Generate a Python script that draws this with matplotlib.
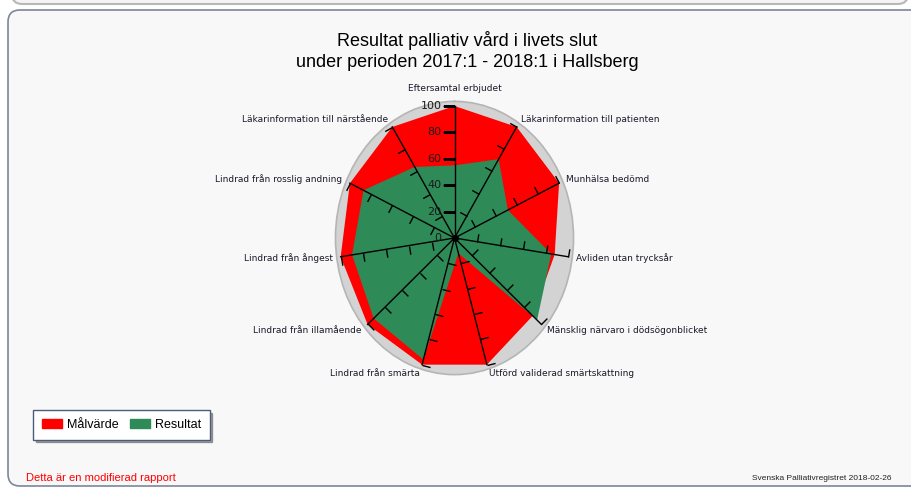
import matplotlib.pyplot as plt
import numpy as np
from matplotlib.patches import FancyBboxPatch, Patch
from matplotlib.path import Path
from matplotlib.markers import MarkerStyle
from matplotlib.transforms import Affine2D, IdentityTransform

# data
categories = [
    'Eftersamtal erbjudet',
    'Läkarinformation till patienten',
    'Munhälsa bedömd',
    'Avliden utan trycksår',
    'Mänsklig närvaro i dödsögonblicket',
    'Utförd validerad smärtskattning',
    'Lindrad från smärta',
    'Lindrad från illamående',
    'Lindrad från ångest',
    'Lindrad från rosslig andning',
    'Läkarinformation till närstående',
]
malvarde = [100, 100, 100, 88, 90, 100, 100, 100, 100, 100, 100]
resultat = [55, 71, 51, 85, 95, 12, 96, 93, 90, 87, 64]
r_ticks = [0, 20, 40, 60, 80, 100]

W, H = 912, 488
fig = plt.figure(figsize=(W / 100, H / 100), dpi=100)
fig.patch.set_facecolor('white')

# background panels (pixel coordinates), kept behind the axes
fig.add_artist(FancyBboxPatch((12, H - 4), 896, 30, boxstyle='round,pad=0,rounding_size=10',
                              transform=IdentityTransform(), facecolor='#f4f4f4',
                              edgecolor='#b8b8b8', lw=1.5, zorder=-10))
fig.add_artist(FancyBboxPatch((8, 2), 920, 476, boxstyle='round,pad=0,rounding_size=12',
                              transform=IdentityTransform(), facecolor='#f8f8f8',
                              edgecolor='#7d8799', lw=1.2, zorder=-10))

# title
fig.text(467 / W, 1 - 31 / H, 'Resultat palliativ vård i livets slut\nunder perioden 2017:1 - 2018:1 i Hallsberg',
         ha='center', va='top', fontsize=13, family='Liberation Sans', linespacing=1.3)

# radar (elliptical polar axes)
cx, cy = 454.5, 238
rmax = 103.5
rx, ry = 115 * rmax / 100, 132 * rmax / 100
ax = fig.add_axes([(cx - rx) / W, (H - cy - ry) / H, 2 * rx / W, 2 * ry / H], projection='polar')
ax.set_aspect('auto')
ax.set_theta_zero_location('N')
ax.set_theta_direction(-1)
ax.set_ylim(0, rmax)
ax.grid(False)
ax.set_xticks([])
ax.set_yticks([])
ax.set_facecolor('#d3d3d3')
ax.spines['polar'].set_color('#b5b5b5')
ax.spines['polar'].set_linewidth(1.2)

n = len(categories)
theta = np.arange(n) * 2 * np.pi / n
closed = np.append(theta, theta[0])
ax.fill(closed, malvarde + malvarde[:1], color='#ff0000', lw=0)
ax.fill(closed, resultat + resultat[:1], color='#2e8b57', lw=0)

# spokes with one-sided tick marks
tick_path = Path([(0, 0), (1, 0)], [Path.MOVETO, Path.LINETO])
for k, t in enumerate(theta):
    ax.plot([t, t], [0, 100], color='black', lw=1)
    ang = np.degrees(np.arctan2(rx * np.sin(t), -ry * np.cos(t)))
    ms = 17 if k == 0 else 12
    ax.plot([t] * 5, r_ticks[1:], ls='none',
            marker=MarkerStyle(tick_path, transform=Affine2D().rotate_deg(ang)),
            ms=ms, mec='black', mew=1)
ax.plot([0], [0], 'o', color='black', ms=4)

for v in r_ticks:
    ax.annotate(str(v), xy=(0, v), xytext=(-13, 0), textcoords='offset pixels',
                ha='right', va='center', fontsize=8, color='#1a1a1a')

for k, (t, label) in enumerate(zip(theta, categories)):
    if k == 0:
        ha, va, r = 'center', 'bottom', 110
    elif k <= 5:
        ha, va, r = 'left', 'center', 107
    else:
        ha, va, r = 'right', 'center', 107
    ax.text(t, r, label, ha=ha, va=va, fontsize=6.5, color='#1a1a2a')

# legend
handles = [Patch(color='#ff0000', label='Målvärde'), Patch(color='#2e8b57', label='Resultat')]
leg = fig.legend(handles=handles, loc='upper left', bbox_to_anchor=(33 / W, 1 - 410 / H), ncol=2,
                 fancybox=False, shadow=True, edgecolor='#4b5b7b', framealpha=1,
                 prop={'family': 'Liberation Sans', 'size': 9}, handlelength=1.6, handleheight=0.8,
                 columnspacing=0.9, handletextpad=0.4, borderpad=0.7, borderaxespad=0)
leg.get_frame().set_linewidth(1)

fig.text(26 / W, 1 - 478 / H, 'Detta är en modifierad rapport', color='#ff0000', fontsize=8,
         family='Liberation Sans', va='center')
fig.text(892 / W, 1 - 478 / H, 'Svenska Palliativregistret 2018-02-26', color='#222222', fontsize=6,
         family='Liberation Sans', va='center', ha='right')

plt.savefig('out.png', dpi=100)
